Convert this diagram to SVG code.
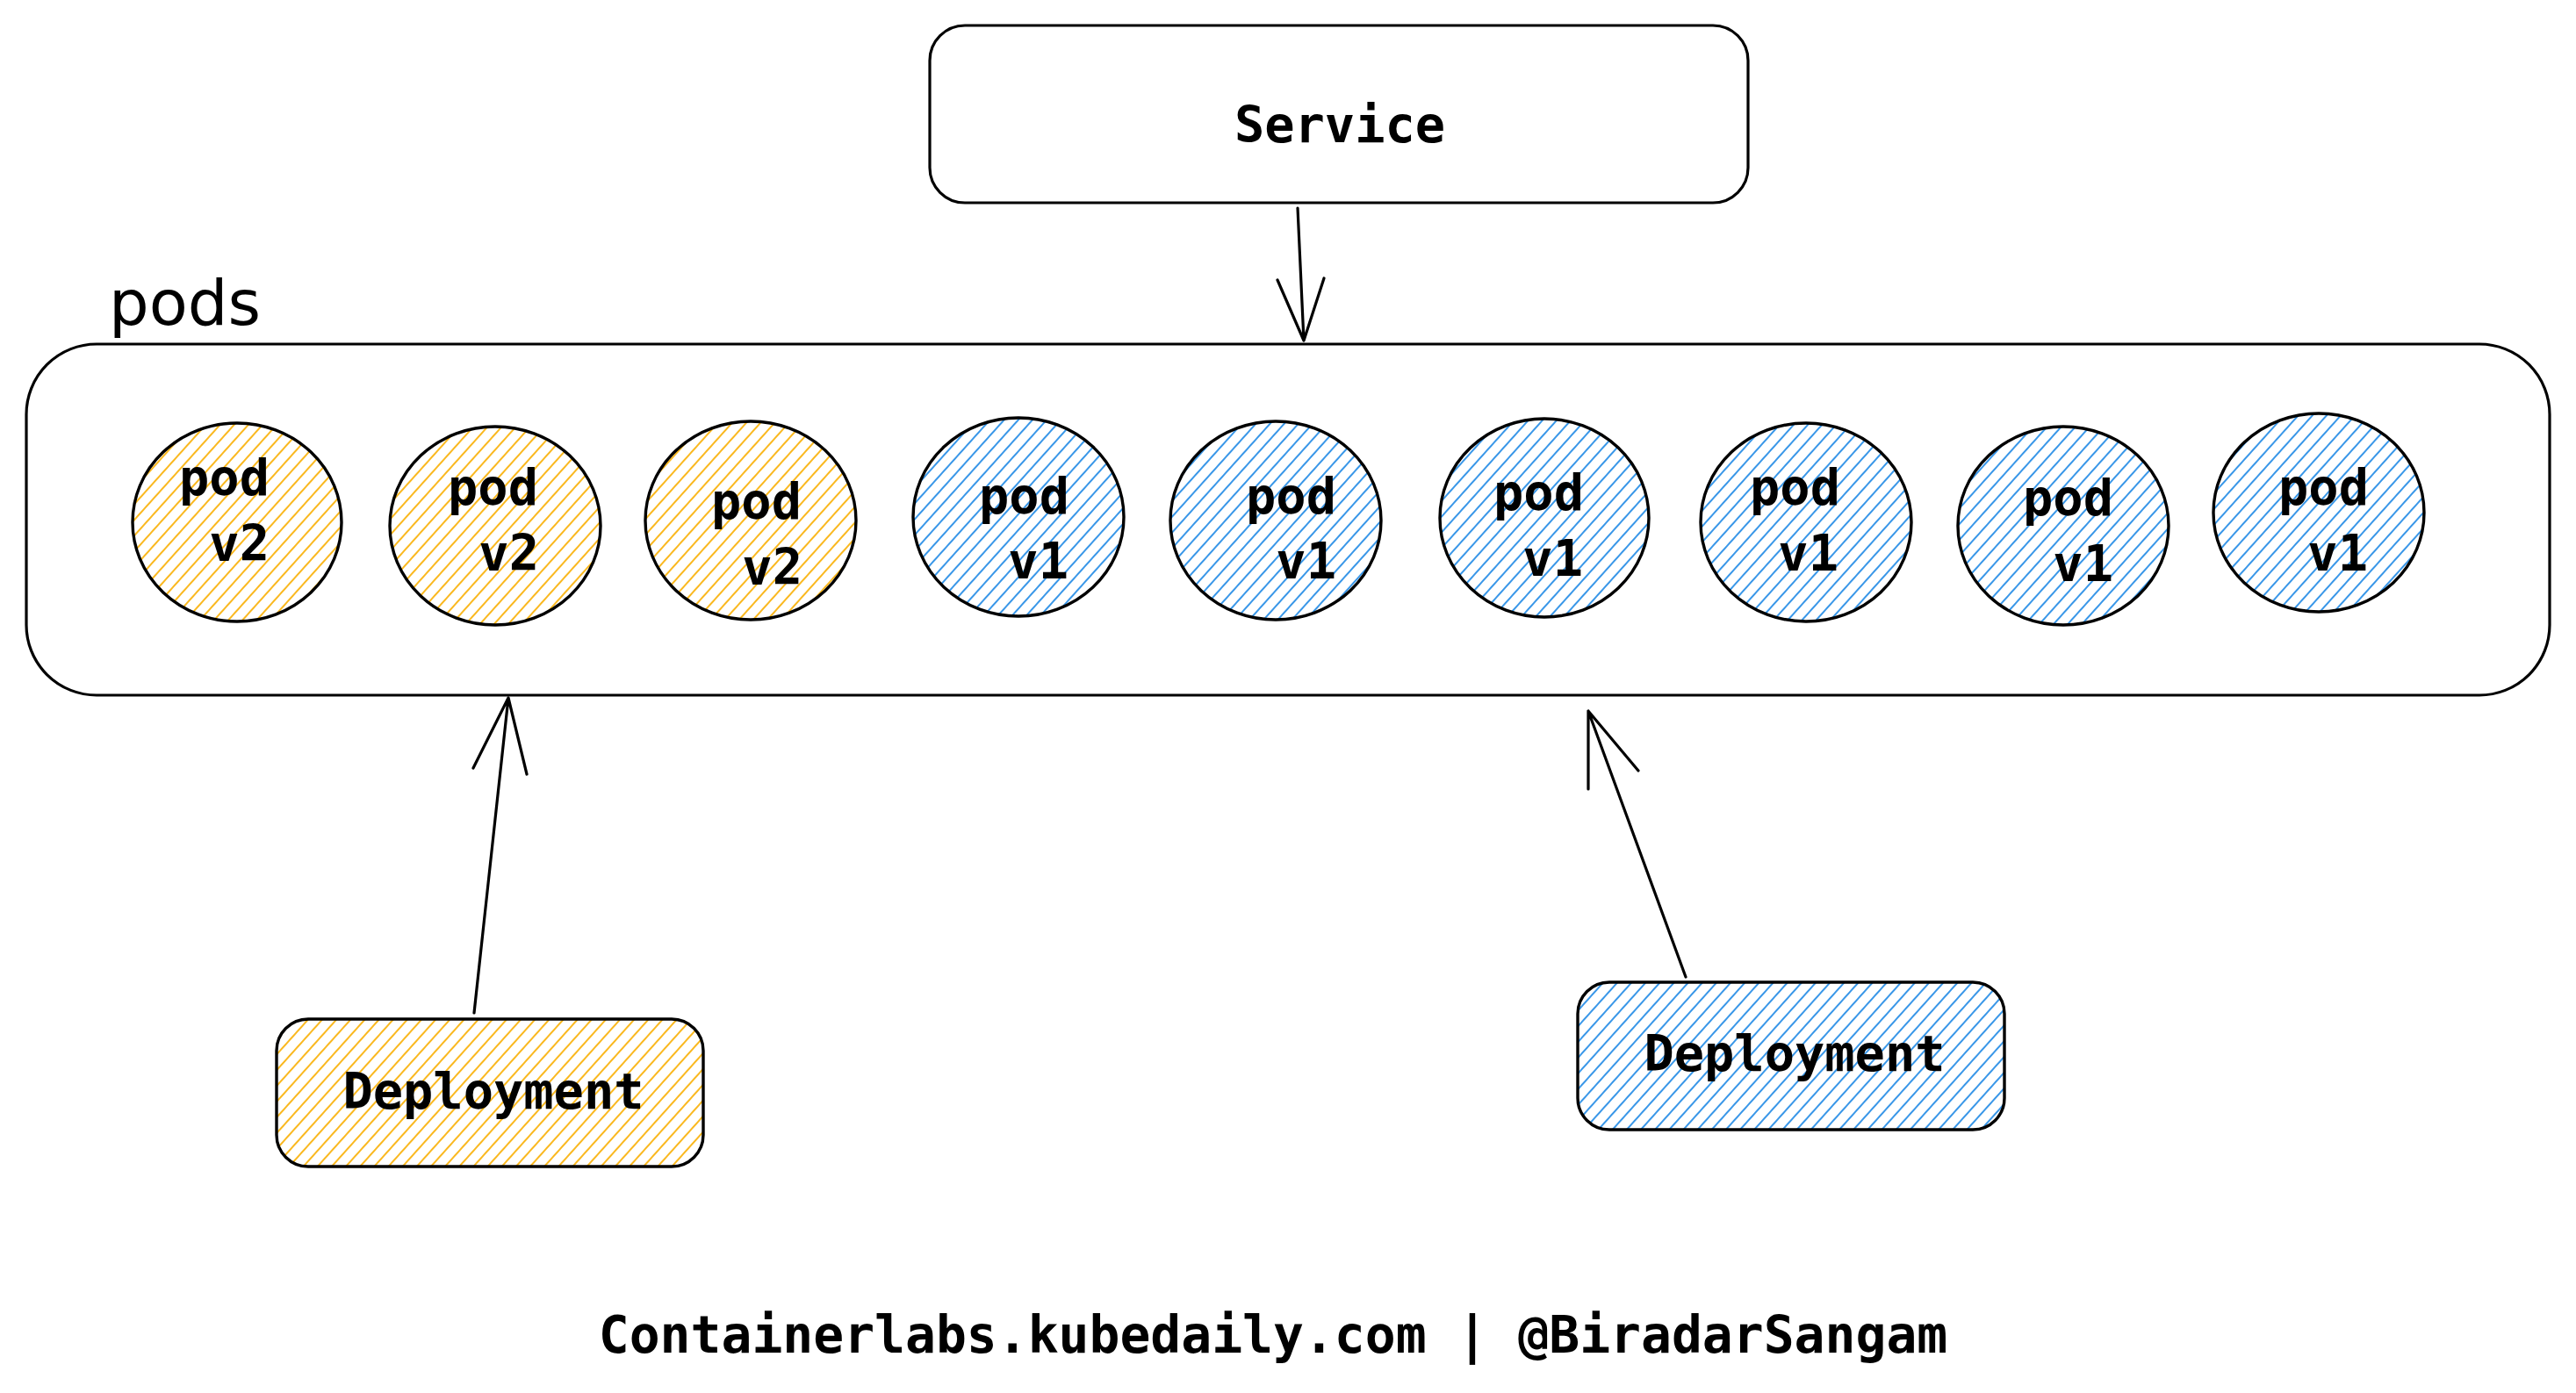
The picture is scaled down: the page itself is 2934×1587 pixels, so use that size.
<svg xmlns="http://www.w3.org/2000/svg" width="2934" height="1587" viewBox="0 0 2934 1587">
<defs>
<pattern id="hOrange" patternUnits="userSpaceOnUse" width="12" height="12" patternTransform="rotate(42)">
<line x1="6" y1="0" x2="6" y2="12" stroke="#fab005" stroke-width="1.8"/>
</pattern>
<pattern id="hBlue" patternUnits="userSpaceOnUse" width="12" height="12" patternTransform="rotate(42)">
<line x1="6" y1="0" x2="6" y2="12" stroke="#228be6" stroke-width="1.8"/>
</pattern>
</defs>
<style>
.box{fill:none;stroke:#000;stroke-width:3.2}
.pv2{fill:url(#hOrange);stroke:#000;stroke-width:3.4}
.pv1{fill:url(#hBlue);stroke:#000;stroke-width:3.4}
.dep-o{fill:url(#hOrange);stroke:#000;stroke-width:3.4}
.dep-b{fill:url(#hBlue);stroke:#000;stroke-width:3.4}
.t{font-family:"DejaVu Sans Mono","Liberation Mono",monospace;font-weight:bold;font-size:57px;fill:#000}
.pt{font-family:"DejaVu Sans Mono","Liberation Mono",monospace;font-weight:bold;font-size:57px;fill:#000;text-anchor:end}
.c{text-anchor:middle}
.lbl{font-family:"DejaVu Sans","Liberation Sans",sans-serif;font-size:72px;fill:#000}
.conn{fill:none;stroke:#000;stroke-width:3.2;stroke-linecap:round;stroke-linejoin:round}
</style>
<rect width="2934" height="1587" fill="#fff"/>

<g id="service">
<rect class="box" x="1059" y="29" width="932" height="202" rx="40" ry="40"/>
<text class="t c" x="1526" y="162">Service</text>
</g>

<g id="pods-group">
<rect class="box" x="30" y="392" width="2874" height="400" rx="80" ry="80"/>
<text class="lbl" x="124" y="370">pods</text>
</g>

<g id="pod1"><ellipse class="pv2" cx="270" cy="595" rx="119" ry="113"/><text class="pt" x="307" y="564">pod</text><text class="pt" x="307" y="639">v2</text></g>
<g id="pod2"><ellipse class="pv2" cx="564" cy="599" rx="120" ry="113"/><text class="pt" x="613" y="575">pod</text><text class="pt" x="614" y="650">v2</text></g>
<g id="pod3"><ellipse class="pv2" cx="855" cy="593" rx="120" ry="113"/><text class="pt" x="913" y="591">pod</text><text class="pt" x="914" y="666">v2</text></g>
<g id="pod4"><ellipse class="pv1" cx="1160" cy="589" rx="120" ry="113"/><text class="pt" x="1218" y="585">pod</text><text class="pt" x="1217" y="659">v1</text></g>
<g id="pod5"><ellipse class="pv1" cx="1453" cy="593" rx="120" ry="113"/><text class="pt" x="1522" y="585">pod</text><text class="pt" x="1522" y="659">v1</text></g>
<g id="pod6"><ellipse class="pv1" cx="1759" cy="590" rx="119" ry="113"/><text class="pt" x="1804" y="581">pod</text><text class="pt" x="1803" y="656">v1</text></g>
<g id="pod7"><ellipse class="pv1" cx="2057" cy="595" rx="120" ry="113"/><text class="pt" x="2096" y="575">pod</text><text class="pt" x="2094" y="650">v1</text></g>
<g id="pod8"><ellipse class="pv1" cx="2350" cy="599" rx="120" ry="113"/><text class="pt" x="2407" y="587">pod</text><text class="pt" x="2407" y="662">v1</text></g>
<g id="pod9"><ellipse class="pv1" cx="2641" cy="584" rx="120" ry="113"/><text class="pt" x="2698" y="575">pod</text><text class="pt" x="2697" y="650">v1</text></g>

<g id="deployment-v2">
<rect class="dep-o" x="315" y="1161" width="486" height="168" rx="36" ry="36"/>
<text class="t c" x="562" y="1263">Deployment</text>
</g>

<g id="deployment-v1">
<rect class="dep-b" x="1797" y="1119" width="486" height="168" rx="36" ry="36"/>
<text class="t c" x="2044" y="1220">Deployment</text>
</g>

<g id="connectors">
<path class="conn" d="M1478 237 L1485 388 M1455 319 L1485 388 L1508 317"/>
<path class="conn" d="M540 1154 L579 795 M539 875 L579 795 L600 882"/>
<path class="conn" d="M1920 1113 L1809 810 M1809 899 L1809 810 L1866 878"/>
</g>

<text class="t c" x="1450" y="1541" style="font-size:58px">Containerlabs.kubedaily.com | @BiradarSangam</text>
</svg>
